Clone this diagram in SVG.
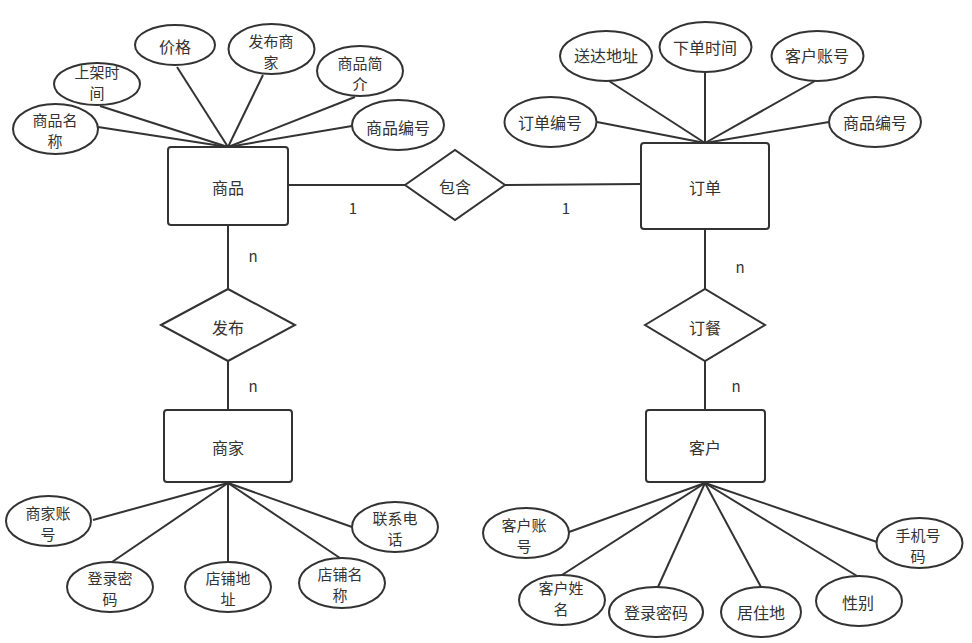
<svg xmlns="http://www.w3.org/2000/svg" width="972" height="643" viewBox="0 0 972 643">
<style>
.s{fill:#fff;stroke:#333;stroke-width:2}
.c line{stroke:#333;stroke-width:2}
text{font-family:"Noto Sans CJK SC","Liberation Sans",sans-serif;font-size:16px;fill:#333;text-anchor:middle;dominant-baseline:central}
.lb{font-size:15px}
.w{font-size:15px}
</style>
<rect width="972" height="643" fill="#fff"/>
<g class="c" id="connectors">
<line x1="98" y1="127" x2="228" y2="147"/>
<line x1="100" y1="106" x2="228" y2="147"/>
<line x1="177" y1="67" x2="228" y2="147"/>
<line x1="263" y1="75" x2="228" y2="147"/>
<line x1="355" y1="97" x2="228" y2="147"/>
<line x1="352" y1="126" x2="228" y2="147"/>
<line x1="597" y1="122" x2="705" y2="143"/>
<line x1="609" y1="81" x2="705" y2="143"/>
<line x1="705" y1="72" x2="705" y2="143"/>
<line x1="815" y1="81" x2="705" y2="143"/>
<line x1="829" y1="122" x2="705" y2="143"/>
<line x1="288" y1="185" x2="405" y2="185"/>
<line x1="505" y1="185" x2="641" y2="184"/>
<line x1="228" y1="225" x2="228" y2="289"/>
<line x1="228" y1="361" x2="228" y2="410"/>
<line x1="705" y1="229" x2="705" y2="289"/>
<line x1="705" y1="361" x2="705" y2="410"/>
<line x1="93" y1="520" x2="228" y2="483"/>
<line x1="112" y1="562" x2="228" y2="483"/>
<line x1="228" y1="562" x2="228" y2="483"/>
<line x1="340" y1="558" x2="228" y2="483"/>
<line x1="352" y1="527" x2="228" y2="483"/>
<line x1="569" y1="532" x2="705" y2="483"/>
<line x1="562" y1="575" x2="705" y2="483"/>
<line x1="658" y1="587" x2="705" y2="483"/>
<line x1="761" y1="587" x2="705" y2="483"/>
<line x1="857" y1="576" x2="705" y2="483"/>
<line x1="877" y1="542" x2="705" y2="483"/>
<text class="lb" x="353" y="207">1</text>
<text class="lb" x="566" y="207">1</text>
<text class="lb" x="253" y="255">n</text>
<text class="lb" x="253" y="385">n</text>
<text class="lb" x="740" y="266">n</text>
<text class="lb" x="736" y="385">n</text>
</g>
<g id="e-shangpin"><rect class="s" x="168" y="147" width="120" height="78" rx="3"/><text x="228" y="187">商品</text></g>
<g id="e-dingdan"><rect class="s" x="641" y="143" width="128" height="86" rx="3"/><text x="705" y="187">订单</text></g>
<g id="e-shangjia"><rect class="s" x="164" y="410" width="128" height="72" rx="3"/><text x="228" y="447">商家</text></g>
<g id="e-kehu"><rect class="s" x="646" y="410" width="119" height="72" rx="3"/><text x="705" y="447">客户</text></g>
<g id="r-baohan"><polygon class="s" points="405,185 455,150 505,185 455,220"/><text x="455" y="186">包含</text></g>
<g id="r-fabu"><polygon class="s" points="161,325 228,289 295,325 228,361"/><text x="228" y="327">发布</text></g>
<g id="r-dingcan"><polygon class="s" points="645,325 705,289 765,325 705,361"/><text x="705" y="327">订餐</text></g>
<g id="a-spmc"><ellipse class="s" cx="55.5" cy="129" rx="42.5" ry="25"/><text class="w" x="55" y="119">商品名<tspan x="55" dy="21">称</tspan></text></g>
<g id="a-sjsj"><ellipse class="s" cx="97" cy="84" rx="43" ry="21"/><text class="w" x="97" y="71">上架时<tspan x="97" dy="21">间</tspan></text></g>
<g id="a-jg"><ellipse class="s" cx="175" cy="45" rx="40" ry="20"/><text x="175" y="46">价格</text></g>
<g id="a-fbsj"><ellipse class="s" cx="271.5" cy="49" rx="43" ry="25"/><text class="w" x="271" y="40">发布商<tspan x="271" dy="21">家</tspan></text></g>
<g id="a-spjj"><ellipse class="s" cx="360" cy="71" rx="43" ry="25"/><text class="w" x="360" y="62">商品简<tspan x="360" dy="21">介</tspan></text></g>
<g id="a-spbh"><ellipse class="s" cx="398" cy="125" rx="46" ry="25"/><text x="398" y="127">商品编号</text></g>
<g id="a-ddbh"><ellipse class="s" cx="550.5" cy="122" rx="46" ry="25"/><text x="550" y="122">订单编号</text></g>
<g id="a-sddz"><ellipse class="s" cx="606" cy="56" rx="46" ry="25"/><text x="606" y="55">送达地址</text></g>
<g id="a-xdsj"><ellipse class="s" cx="705.5" cy="47" rx="46" ry="25"/><text x="705" y="47">下单时间</text></g>
<g id="a-khzh1"><ellipse class="s" cx="817.5" cy="56" rx="46" ry="25"/><text x="817" y="55">客户账号</text></g>
<g id="a-spbh2"><ellipse class="s" cx="875" cy="122" rx="46" ry="25"/><text x="875" y="122">商品编号</text></g>
<g id="a-sjzh"><ellipse class="s" cx="48.5" cy="521" rx="42.5" ry="25"/><text class="w" x="48" y="512">商家账<tspan x="48" dy="21">号</tspan></text></g>
<g id="a-dlmm1"><ellipse class="s" cx="110" cy="587" rx="43" ry="25"/><text class="w" x="110" y="577">登录密<tspan x="110" dy="21">码</tspan></text></g>
<g id="a-dpdz"><ellipse class="s" cx="228" cy="587" rx="43" ry="25"/><text class="w" x="228" y="577">店铺地<tspan x="228" dy="21">址</tspan></text></g>
<g id="a-dpmc"><ellipse class="s" cx="342" cy="583" rx="43" ry="25"/><text class="w" x="340" y="573">店铺名<tspan x="340" dy="21">称</tspan></text></g>
<g id="a-lxdh"><ellipse class="s" cx="395" cy="527" rx="43" ry="25"/><text class="w" x="395" y="517">联系电<tspan x="395" dy="21">话</tspan></text></g>
<g id="a-khzh2"><ellipse class="s" cx="526" cy="533" rx="43" ry="25"/><text class="w" x="524" y="524">客户账<tspan x="524" dy="21">号</tspan></text></g>
<g id="a-khxm"><ellipse class="s" cx="562" cy="600" rx="43" ry="25"/><text class="w" x="561" y="587">客户姓<tspan x="561" dy="21">名</tspan></text></g>
<g id="a-dlmm2"><ellipse class="s" cx="656" cy="612" rx="47" ry="25"/><text x="656" y="612">登录密码</text></g>
<g id="a-jzd"><ellipse class="s" cx="761" cy="612" rx="40" ry="25"/><text x="761" y="612">居住地</text></g>
<g id="a-xb"><ellipse class="s" cx="859" cy="601" rx="43" ry="25"/><text x="858" y="602">性别</text></g>
<g id="a-sjhm"><ellipse class="s" cx="919.5" cy="543" rx="43" ry="25"/><text class="w" x="918" y="534">手机号<tspan x="918" dy="21">码</tspan></text></g>
</svg>
